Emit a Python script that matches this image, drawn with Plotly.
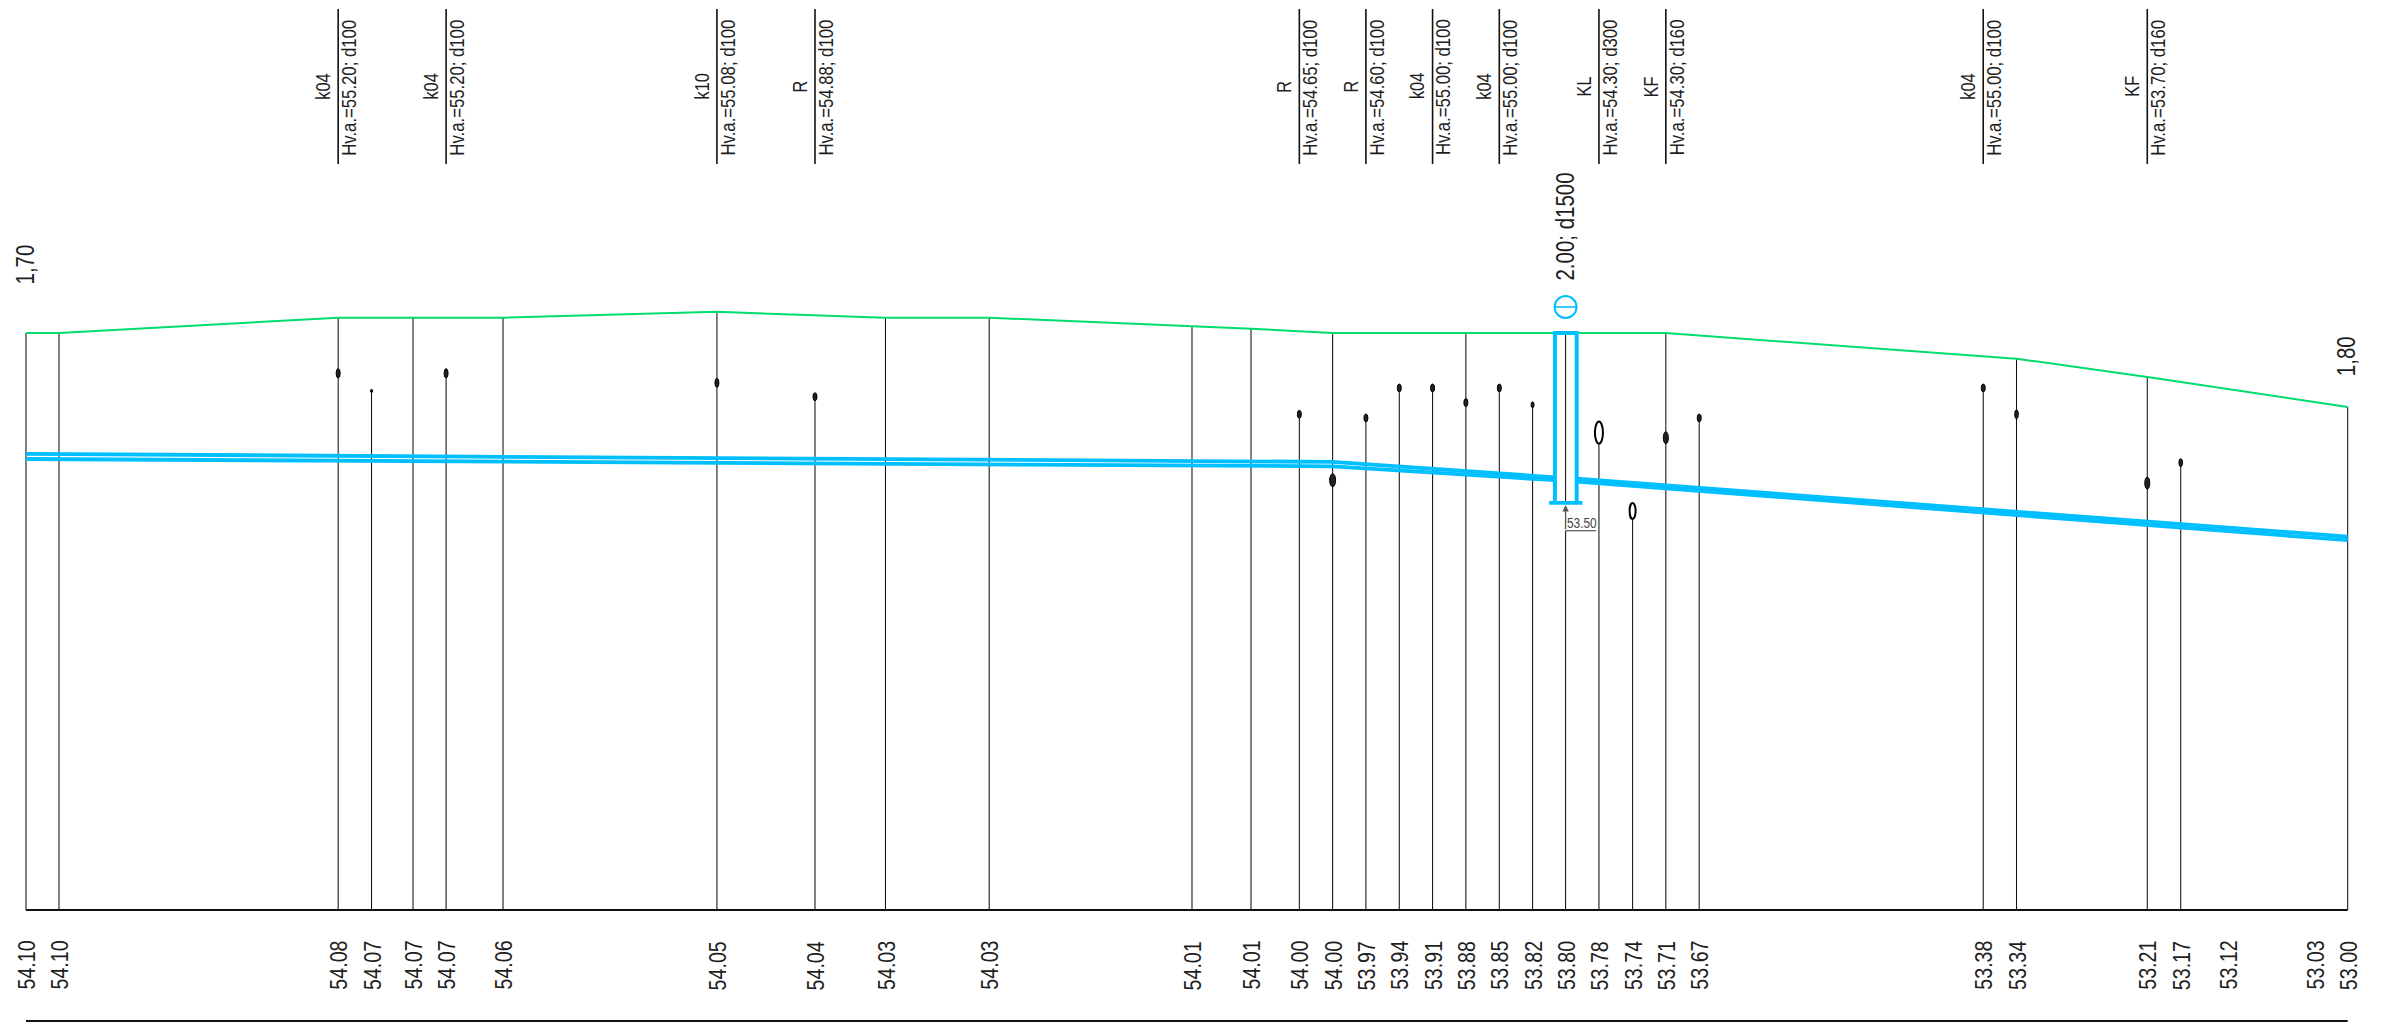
import plotly.graph_objects as go

# ---- data read from the profile (station in m, elevation in m) ----
stations = [0, 4.55, 43.04, 47.64, 53.36, 57.92, 65.77, 95.26, 108.78, 118.50, 132.80, 160.76, 168.90, 175.56, 180.15,
            184.74, 189.34, 193.93, 198.52, 203.13, 207.72, 212.27, 216.87, 221.51, 226.09, 230.69, 269.85, 274.44,
            292.47, 297.08, 303.6, 315.6, 320.10]
invert_labels = ["54.10", "54.10", "54.08", "54.07", "54.07", "54.07", "54.06", "54.05", "54.04", "54.03", "54.03",
                 "54.01", "54.01", "54.00", "54.00", "53.97", "53.94", "53.91", "53.88", "53.85", "53.82", "53.80",
                 "53.78", "53.74", "53.71", "53.67", "53.38", "53.34", "53.21", "53.17", "53.12", "53.03", "53.00"]

ground_st = [0, 4.55, 43.04, 53.36, 65.77, 95.26, 118.50, 132.80, 160.76, 168.90, 180.15, 198.52, 226.09, 274.44, 292.47, 320.10]
ground_z = [55.82, 55.82, 56.03, 56.03, 56.03, 56.11, 56.03, 56.03, 55.92, 55.88, 55.82, 55.82, 55.82, 55.47, 55.22, 54.81]

pipe_w_st = [0, 180.15, 210.8]
pipe_w_low = [54.10, 54.00, 53.81]
pipe_w_up = [54.17, 54.06, 53.85]
pipe_e_st = [213.8, 320.10]
pipe_e_low = [53.79, 52.99]
pipe_e_up = [53.83, 53.04]

# connections: station, elevation of symbol, half width px, half height px
conn_st = [43.04, 47.64, 57.92, 95.26, 108.78, 175.56, 180.15, 184.74, 189.34, 193.93, 198.52, 203.13, 207.72, 216.87,
           221.51, 226.09, 230.69, 269.85, 274.44, 292.47, 297.08]
conn_z = [55.27, 55.03, 55.27, 55.14, 54.95, 54.71, 53.81, 54.66, 55.07, 55.07, 54.87, 55.07, 54.84, 54.46, 53.39, 54.39,
          54.66, 55.07, 54.71, 53.77, 54.05]
conn_rx = [2, 1.2, 2, 2, 2, 2, 3, 2, 2, 2, 2, 2, 1.5, 4, 3, 2.5, 2, 2, 1.8, 2.5, 1.8]
conn_ry = [4.7, 1.5, 4.7, 4.5, 4, 4, 6.5, 4, 4, 4, 4, 4, 3, 11, 8, 6, 4, 4, 4.5, 6, 4]
conn_open = [216.87, 221.51]

tag_st = [43.04, 57.92, 95.26, 108.78, 175.56, 184.74, 193.93, 203.13, 216.87, 226.09, 269.85, 292.47]
tag_type = ["k04", "k04", "k10", "R", "R", "R", "k04", "k04", "KL", "KF", "k04", "KF"]
tag_text = ["Hv.a.=55.20; d100", "Hv.a.=55.20; d100", "Hv.a.=55.08; d100", "Hv.a.=54.88; d100", "Hv.a.=54.65; d100",
            "Hv.a.=54.60; d100", "Hv.a.=55.00; d100", "Hv.a.=55.00; d100", "Hv.a.=54.30; d300", "Hv.a.=54.30; d160",
            "Hv.a.=55.00; d100", "Hv.a.=53.70; d160"]

manhole_st = 212.27
manhole_w = [210.8, 213.8]
manhole_cap = [210.0, 214.6]
manhole_top = 55.82
manhole_bottom = 53.50
manhole_level_leader = 53.12
manhole_label = "2.00; d1500"
manhole_bottom_label = "53.50"
depth_labels = ["1,70", "1,80"]
depth_st = [0, 320.10]
datum_z = 47.94

# ---- styles ----
FONT = "Liberation Sans"
CYAN = "#00BFFF"
GREEN = "#00DC6E"
LINE = "#111111"
TEXT = "#1e1e1e"
W, H = 2397, 1032
TALL = 1.22  # glyph height factor giving the narrow lettering of the drawing


def py(px):
    return 1 - px / H


def fs(px):
    return round(px / TALL, 2)


fig = go.Figure()


def verticals(xs, tops, color=LINE):
    X, Y = [], []
    for x, t in zip(xs, tops):
        X += [x, x, None]
        Y += [datum_z, t, None]
    fig.add_trace(go.Scatter(x=X, y=Y, mode="lines", line=dict(color=color, width=1.05), hoverinfo="skip"))


# station verticals up to the ground
verticals(ground_st, ground_z)

# verticals up to connections that stop below the ground
g_set = set(ground_st)
c_pairs = [(s, z) for s, z in zip(conn_st, conn_z) if s not in g_set]
verticals([s for s, z in c_pairs], [z for s, z in c_pairs])

# line below and inside the manhole
verticals([manhole_st], [manhole_level_leader])
fig.add_trace(go.Scatter(x=[manhole_st, manhole_st], y=[manhole_bottom, manhole_top], mode="lines",
                         line=dict(color=LINE, width=1.05), hoverinfo="skip"))

# ground
fig.add_trace(go.Scatter(x=ground_st, y=ground_z, mode="lines", line=dict(color=GREEN, width=2), hoverinfo="skip"))

# pipe
for xs, ys in [(pipe_w_st, pipe_w_low), (pipe_w_st, pipe_w_up), (pipe_e_st, pipe_e_low), (pipe_e_st, pipe_e_up)]:
    fig.add_trace(go.Scatter(x=xs, y=ys, mode="lines", line=dict(color=CYAN, width=3.8), hoverinfo="skip"))

# manhole
fig.add_trace(go.Scatter(x=[manhole_w[0], manhole_w[0], manhole_w[1], manhole_w[1]],
                         y=[manhole_bottom, manhole_top, manhole_top, manhole_bottom],
                         mode="lines", line=dict(color=CYAN, width=4), hoverinfo="skip"))
fig.add_trace(go.Scatter(x=manhole_cap, y=[manhole_bottom, manhole_bottom], mode="lines",
                         line=dict(color=CYAN, width=3.6), hoverinfo="skip"))

# underline for the bottom label
fig.add_trace(go.Scatter(x=[manhole_st, 216.5], y=[manhole_level_leader, manhole_level_leader], mode="lines",
                         line=dict(color="#555555", width=1.2), hoverinfo="skip"))

shapes = []
# datum and bottom rule
for ypx in (910, 1021):
    shapes.append(dict(type="line", xref="x", yref="paper", x0=stations[0], x1=stations[-1],
                       y0=py(ypx), y1=py(ypx), line=dict(color=LINE, width=2.2)))
# tag rules
for s in tag_st:
    shapes.append(dict(type="line", xref="x", yref="paper", x0=s, x1=s, y0=py(9), y1=py(164),
                       line=dict(color=LINE, width=1.6)))
# connection ellipses
for s, z, rx, ry in zip(conn_st, conn_z, conn_rx, conn_ry):
    is_open = s in conn_open
    shapes.append(dict(type="circle", xref="x", yref="y", xsizemode="pixel", ysizemode="pixel",
                       xanchor=s, yanchor=z, x0=-rx, x1=rx, y0=-ry, y1=ry,
                       fillcolor="white" if is_open else "#222222",
                       line=dict(color="#000000", width=2 if is_open else 1), layer="above"))
# manhole symbol
shapes.append(dict(type="circle", xref="x", yref="paper", xsizemode="pixel", ysizemode="pixel",
                   xanchor=manhole_st, yanchor=py(307), x0=-11, x1=11, y0=-11, y1=11,
                   line=dict(color=CYAN, width=2)))
shapes.append(dict(type="line", xref="x", yref="paper", xsizemode="pixel", ysizemode="pixel",
                   xanchor=manhole_st, yanchor=py(307), x0=-11, x1=11, y0=0, y1=0,
                   line=dict(color=CYAN, width=1.6)))

ann = []
C = dict(xanchor="center", yanchor="middle", showarrow=False, xref="x", yref="paper")
for s, t in zip(stations, invert_labels):
    ann.append(dict(x=s, y=py(965.5), text=t, textangle=-90, font=dict(family=FONT, size=fs(24), color=TEXT), **C))
for s, a, b in zip(tag_st, tag_type, tag_text):
    ann.append(dict(x=s, y=py(86.5), text=a, textangle=-90, xshift=-16, font=dict(family=FONT, size=fs(20), color=TEXT), **C))
    ann.append(dict(x=s, y=py(87.5), text=b, textangle=-90, xshift=11, font=dict(family=FONT, size=fs(20.4), color=TEXT), **C))
ann.append(dict(x=depth_st[0], y=py(264.5), text=depth_labels[0], textangle=-90, xshift=-1, font=dict(family=FONT, size=fs(25), color=TEXT), **C))
ann.append(dict(x=depth_st[1], y=py(356.5), text=depth_labels[1], textangle=-90, xshift=-2, font=dict(family=FONT, size=fs(25), color=TEXT), **C))
ann.append(dict(x=manhole_st, y=py(227), text=manhole_label, textangle=-90, font=dict(family=FONT, size=fs(25), color=TEXT), **C))
ann.append(dict(x=214.55, y=py(522.5), text=manhole_bottom_label, font=dict(family=FONT, size=fs(14.5), color="#444444"), **C))
# level arrow
ann.append(dict(x=manhole_st, y=53.47, ax=manhole_st, ay=manhole_level_leader, xref="x", yref="y", axref="x", ayref="y",
                text="", showarrow=True, arrowhead=2, arrowsize=1, arrowwidth=1.3, arrowcolor="#555555"))

fig.update_layout(
    width=W, height=H, margin=dict(l=0, r=0, t=0, b=0), showlegend=False,
    paper_bgcolor="white", plot_bgcolor="white", shapes=shapes, annotations=ann,
    xaxis=dict(range=[-3.585, 326.9], visible=False, fixedrange=True),
    yaxis=dict(range=[46.272, 60.37], visible=False, fixedrange=True),
)
# Narrow lettering: the real text is drawn taller about its own middle, keeping its length.
post = """
document.body.style.margin='0';
document.documentElement.style.overflow='hidden';
document.querySelectorAll('.annotation-text').forEach(function(t){
  if(t.getComputedTextLength()<=0) return;
  var b=t.getBBox(), c=b.y+b.height/2, old=t.getAttribute('transform')||'';
  t.setAttribute('transform', old+' translate(0,'+c+') scale(1,%s) translate(0,'+(-c)+')');
});
""" % TALL
fig.write_html("out.html", post_script=post, config=dict(displayModeBar=False))
